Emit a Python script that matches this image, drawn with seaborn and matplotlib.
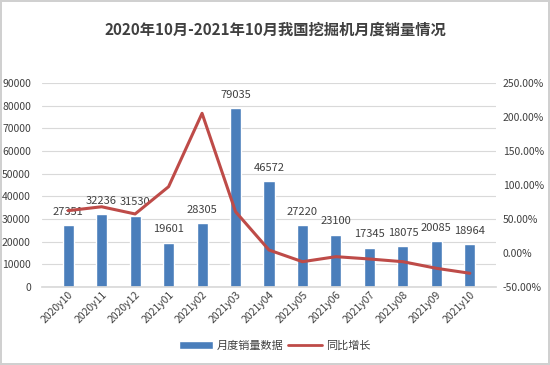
import numpy as np
import pandas as pd
import matplotlib
matplotlib.use('Agg')
import matplotlib.pyplot as plt
import seaborn as sns
from matplotlib.ticker import FuncFormatter, MultipleLocator
from matplotlib.patches import Patch
from matplotlib.lines import Line2D

# Data
months = ['2020y10', '2020y11', '2020y12', '2021y01', '2021y02', '2021y03', '2021y04',
          '2021y05', '2021y06', '2021y07', '2021y08', '2021y09', '2021y10']
sales = [27351, 32236, 31530, 19601, 28305, 79035, 46572, 27220, 23100, 17345, 18075, 20085, 18964]
yoy = [62.3, 68.0, 57.4, 97.5, 205.4, 60.8, 4.4, -12.8, -5.4, -8.8, -12.8, -22.5, -29.8]

title = '2020年10月-2021年10月我国挖掘机月度销量情况'
bar_name = '月度销量数据'
line_name = '同比增长'

bar_color = '#4A7EBB'
line_color = '#BE4B48'
text_color = '#404040'

sns.set_theme(style='white')
plt.rcParams['font.family'] = ['Noto Sans CJK SC', 'DejaVu Sans']

df = pd.DataFrame({'month': months, 'sales': sales, 'yoy': yoy})

fig = plt.figure(figsize=(5.5, 3.65), dpi=100)
fig.patch.set_edgecolor('#D0D0D0')
fig.patch.set_linewidth(1.5)
ax = fig.add_axes([42 / 550, 1 - 287 / 365, 454 / 550, 204 / 365])

sns.barplot(data=df, x='month', y='sales', color=bar_color, width=0.33,
            saturation=1, ax=ax)
ax.set_ylim(0, 90000)
ax.yaxis.set_major_locator(MultipleLocator(10000))
ax.grid(True, axis='y', color='#D9D9D9', linewidth=0.8)
ax.set_axisbelow(True)
ax.bar_label(ax.containers[0], padding=6, fontsize=8, color=text_color)
ax.set_xlabel('')
ax.set_ylabel('')
ax.tick_params(axis='y', labelsize=7.5, colors=text_color, length=0, pad=8)
ax.tick_params(axis='x', labelsize=7.5, colors=text_color, length=0, pad=2)
plt.setp(ax.get_xticklabels(), rotation=45, ha='right', rotation_mode='anchor')
for s in ['top', 'right', 'left']:
    ax.spines[s].set_visible(False)
ax.spines['bottom'].set_color('#D9D9D9')

ax2 = ax.twinx()
sns.lineplot(x=np.arange(len(months)), y=yoy, color=line_color, linewidth=2.2, ax=ax2)
ax2.set_ylim(-50, 250)
ax2.yaxis.set_major_locator(MultipleLocator(50))
ax2.yaxis.set_major_formatter(FuncFormatter(lambda v, p: f'{v:.2f}%'))
ax2.tick_params(axis='y', labelsize=7.5, colors=text_color, length=0, pad=5)
for s in ax2.spines.values():
    s.set_visible(False)
ax2.grid(False)

fig.text(0.5, 1 - 30 / 365, title, ha='center', va='center', fontsize=11,
         fontweight='bold', color=text_color)

handles = [Patch(facecolor=bar_color, label=bar_name),
           Line2D([0], [0], color=line_color, linewidth=2, label=line_name)]
fig.legend(handles=handles, loc='center', bbox_to_anchor=(0.5, 1 - 346 / 365),
           ncol=2, frameon=False, fontsize=8, handlelength=3, columnspacing=0.4,
           handletextpad=0.4, labelcolor=text_color)

fig.savefig('out.png', dpi=100)
